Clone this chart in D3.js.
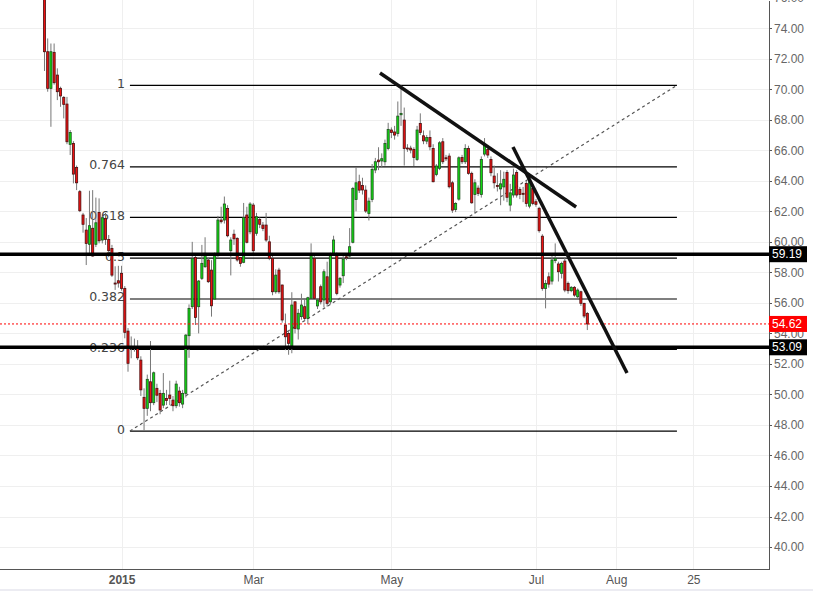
<!DOCTYPE html>
<meta charset="utf-8">
<html lang="en">
<style>

    body {
        margin: 0;
        background: #fff;
    }

    .grid line {
        stroke: #efefef;
        shape-rendering: crispEdges;
    }

    .axis path,
    .axis line {
        fill: none;
        stroke: #555;
        shape-rendering: crispEdges;
    }

    .axis text {
        font-family: "Liberation Sans", Arial, sans-serif;
        font-size: 12px;
        fill: #666;
    }

    .fib-label {
        font-family: "DejaVu Sans", sans-serif;
        font-size: 12.5px;
        fill: #444;
    }

    .tag text {
        font-family: "Liberation Sans", Arial, sans-serif;
        font-size: 12px;
        fill: #fff;
    }

</style>

<head>
    <meta charset="UTF-8">
    <script src="https://d3js.org/d3.v7.min.js"></script>
</head>
<body>
<svg width="813" height="591"></svg>
</body>
<script>

    // daily candles, oldest first
    var openVals = [
        77.80, 72.46, 70.06, 72.42, 70.93, 70.06, 69.47, 69.03, 66.39, 66.45,
        64.88, 63.29, 61.76, 60.77, 59.84, 60.89, 59.84, 61.93, 60.12, 61.54,
        60.16, 59.57, 57.30, 57.45, 57.94, 56.95, 54.15, 53.15, 53.13, 53.02,
        52.25, 49.81, 49.09, 50.83, 49.46, 50.40, 50.07, 49.30, 49.74, 49.96,
        49.63, 49.26, 50.22, 49.37, 50.07, 53.85, 55.75, 58.98, 55.75, 57.61,
        58.37, 58.81, 58.15, 56.25, 59.14, 61.43, 61.43, 62.19, 59.42, 60.50,
        60.23, 58.98, 58.66, 61.76, 60.66, 62.41, 60.56, 61.47, 61.10, 61.10,
        60.00, 58.92, 56.73, 58.15, 57.17, 54.55, 54.00, 53.17, 56.07, 54.29,
        55.10, 55.75, 54.98, 56.30, 58.92, 55.80, 57.06, 56.19, 57.71, 56.07,
        59.20, 59.20, 57.17, 57.78, 59.02, 59.07, 59.97, 62.78, 63.94, 63.70,
        63.39, 61.86, 62.78, 64.71, 65.36, 65.30, 65.25, 66.12, 67.33, 67.20,
        67.10, 68.33, 67.98, 66.15, 66.14, 66.06, 65.40, 67.76, 66.95, 66.60,
        66.84, 66.12, 64.42, 64.82, 66.56, 65.51, 65.62, 63.87, 62.12, 62.80,
        65.53, 65.25, 66.12, 64.49, 63.10, 63.52, 63.10, 65.75, 66.06, 65.40,
        64.31, 63.70, 63.47, 63.60, 64.55, 62.41, 63.07, 64.55, 63.44, 63.18,
        63.83, 62.34, 63.50, 62.63, 62.20, 60.37, 56.95, 57.71, 57.43, 58.77,
        58.55, 57.94, 58.74, 57.28, 56.80, 57.02, 56.40, 56.73, 55.97, 55.31
    ];
    var highVals = [
        77.90, 73.33, 73.00, 73.00, 71.37, 70.17, 69.55, 69.50, 67.33, 66.60,
        65.00, 63.40, 61.90, 61.56, 63.35, 63.39, 62.90, 62.85, 61.70, 61.90,
        60.45, 59.80, 58.40, 58.43, 58.43, 57.10, 54.35, 53.80, 53.66, 53.56,
        52.50, 50.40, 51.30, 53.50, 51.50, 50.70, 50.30, 51.40, 50.30, 50.90,
        49.90, 50.90, 50.50, 50.30, 53.95, 55.90, 60.00, 59.10, 57.50, 59.80,
        60.30, 58.95, 58.80, 59.30, 61.70, 62.30, 62.97, 62.40, 60.30, 60.80,
        60.30, 59.00, 62.55, 62.30, 62.60, 62.55, 61.90, 61.60, 61.30, 61.90,
        60.40, 59.20, 58.20, 58.30, 57.20, 55.30, 54.20, 56.70, 56.10, 55.60,
        56.60, 56.30, 56.40, 59.90, 59.10, 56.30, 57.20, 58.20, 58.70, 59.30,
        60.40, 59.30, 57.70, 59.10, 59.10, 60.90, 63.60, 64.90, 64.40, 64.20,
        63.70, 62.90, 65.10, 65.50, 66.20, 65.80, 66.70, 67.80, 67.50, 67.60,
        69.20, 70.26, 68.80, 66.40, 66.30, 66.20, 67.60, 68.42, 67.30, 67.00,
        67.30, 66.40, 65.10, 66.60, 66.80, 65.70, 65.80, 64.00, 62.60, 65.60,
        65.70, 66.40, 66.30, 64.60, 64.10, 63.70, 65.60, 66.80, 66.30, 65.60,
        65.00, 64.50, 64.70, 64.60, 64.70, 63.80, 64.80, 64.70, 63.60, 63.60,
        64.00, 64.50, 63.80, 62.80, 62.30, 60.50, 57.50, 58.00, 59.10, 59.90,
        58.70, 58.70, 59.00, 57.40, 57.10, 57.10, 56.95, 56.80, 56.00, 55.40
    ];
    var lowVals = [
        71.20, 69.84, 67.54, 70.30, 69.29, 68.85, 68.09, 66.40, 65.69, 63.83,
        63.39, 61.95, 60.60, 58.48, 59.13, 59.03, 59.66, 59.90, 59.90, 59.80,
        59.00, 57.70, 56.85, 57.00, 56.80, 53.68, 51.49, 52.37, 52.80, 52.25,
        49.90, 47.62, 48.60, 48.90, 49.30, 49.50, 48.70, 49.10, 49.30, 49.30,
        48.90, 49.10, 49.20, 49.10, 49.80, 52.40, 55.60, 54.55, 54.00, 57.50,
        58.30, 57.30, 55.10, 56.20, 59.00, 61.20, 61.20, 60.30, 57.80, 59.80,
        58.70, 58.37, 58.60, 59.90, 60.50, 59.25, 60.40, 60.90, 60.70, 60.00,
        58.80, 56.50, 56.60, 56.60, 54.70, 52.90, 52.60, 52.70, 54.00, 53.60,
        54.90, 54.80, 54.60, 56.30, 56.20, 55.60, 55.90, 55.70, 55.75, 55.90,
        59.10, 56.50, 57.00, 57.30, 58.80, 58.95, 59.90, 62.00, 63.20, 63.10,
        61.90, 61.40, 62.60, 64.50, 64.70, 64.90, 65.00, 66.00, 66.80, 66.70,
        66.90, 67.60, 65.00, 65.90, 65.80, 64.97, 65.30, 67.00, 66.40, 66.40,
        66.00, 63.90, 64.30, 64.70, 65.10, 65.30, 63.50, 61.90, 61.95, 62.70,
        65.10, 65.10, 64.40, 62.50, 61.84, 63.00, 62.90, 65.60, 65.50, 64.30,
        63.50, 63.30, 62.40, 62.70, 62.60, 62.00, 62.90, 62.90, 62.80, 62.60,
        62.30, 62.20, 62.40, 62.30, 60.60, 56.80, 55.64, 57.00, 57.20, 58.60,
        57.40, 57.60, 56.70, 56.60, 56.70, 56.40, 56.30, 55.80, 55.00, 54.22
    ];
    var closeVals = [
        72.46, 70.06, 72.46, 70.43, 69.84, 69.56, 69.01, 66.56, 67.17, 64.44,
        63.87, 62.04, 61.15, 59.90, 61.06, 59.07, 61.25, 60.07, 61.58, 60.16,
        59.42, 57.82, 57.25, 57.30, 56.95, 54.07, 52.04, 53.09, 53.02, 52.40,
        50.30, 49.09, 50.99, 49.46, 51.42, 49.95, 48.98, 50.07, 49.60, 49.74,
        49.26, 50.68, 49.46, 50.07, 53.89, 55.64, 58.92, 55.05, 57.43, 58.59,
        59.25, 57.39, 55.81, 59.14, 61.43, 61.32, 62.48, 60.40, 60.12, 60.20,
        58.81, 58.59, 61.60, 59.97, 62.48, 59.42, 61.65, 61.15, 60.88, 60.12,
        58.92, 56.73, 57.82, 56.73, 54.88, 53.78, 53.35, 55.86, 54.33, 55.32,
        55.86, 54.98, 56.34, 59.13, 56.30, 56.19, 56.07, 58.04, 55.97, 59.20,
        60.12, 56.62, 57.61, 58.87, 58.96, 59.68, 63.50, 63.87, 63.39, 63.40,
        62.02, 62.67, 64.75, 65.25, 65.25, 65.45, 66.45, 67.37, 67.17, 67.00,
        68.24, 68.42, 66.12, 66.10, 66.02, 65.53, 67.33, 67.17, 66.62, 66.84,
        66.23, 63.94, 64.97, 66.49, 65.25, 65.47, 63.61, 62.08, 62.52, 65.51,
        65.25, 66.12, 64.49, 62.56, 63.87, 63.17, 65.40, 66.32, 65.69, 64.53,
        63.87, 63.67, 63.80, 64.10, 62.92, 63.21, 64.38, 63.07, 63.11, 63.12,
        62.52, 64.05, 62.52, 62.46, 60.73, 56.95, 57.28, 57.23, 58.81, 58.92,
        58.04, 58.59, 56.84, 56.80, 57.02, 56.51, 56.84, 55.97, 55.14, 54.62
    ];

    var yTicks = [40, 42, 44, 46, 48, 50, 52, 54, 56, 58, 60, 62, 64, 66, 68, 70, 72, 74, 76];
    var xTickIdx = [24, 65, 108, 153, 178, 202];
    var xTickLabels = ["2015", "Mar", "May", "Jul", "Aug", "25"];

    // fibonacci retracement, drawn from the January low to the May high
    var fibLevels = [1, 0.764, 0.618, 0.5, 0.382, 0.236, 0];
    var fibLabels = ["1", "0.764", "0.618", "0.5", "0.382", "0.236", "0"];
    var fibLow = 47.60, fibHigh = 70.26;
    var fibFrom = 26.6, fibTo = 196.9;

    var keyLevels = [59.19, 53.09];
    var lastPrice = 54.62;

    // hand drawn trend lines: [index, price] -> [index, price]
    var trendLines = [
        [[104.45, 71.07], [165.5, 62.28]],
        [[145.85, 66.22], [181.35, 51.40]]
    ];

    var margin = {top: 0, right: 44, bottom: 22, left: 0},
        width = 813 - margin.left - margin.right,
        height = 591 - margin.top - margin.bottom;

    var candles = openVals.map(function (o, i) {
        return {i: i, open: o, high: highVals[i], low: lowVals[i], close: closeVals[i]};
    });

    var x = d3.scaleLinear().domain([-13.85, 225.56]).range([0, width]);
    var y = d3.scaleLinear().domain([38.56, 75.85]).range([height, 0]);

    var svg = d3.select("svg");

    svg.append("rect")
        .attr("x", 0).attr("y", 589).attr("width", 813).attr("height", 2)
        .style("fill", "#ececf2");

    var g = svg.append("g")
        .attr("transform", "translate(" + margin.left + "," + margin.top + ")");

    g.append("clipPath").attr("id", "plot-clip")
        .append("rect").attr("width", width).attr("height", height);

    // grid
    var grid = g.append("g").attr("class", "grid");
    grid.selectAll(".hg").data(yTicks).enter().append("line")
        .attr("x1", 0).attr("x2", width)
        .attr("y1", function (d) { return Math.round(y(d)) + 0.5; })
        .attr("y2", function (d) { return Math.round(y(d)) + 0.5; });
    grid.selectAll(".vg").data(xTickIdx).enter().append("line")
        .attr("y1", 0).attr("y2", height)
        .attr("x1", function (d) { return Math.round(x(d)) + 0.5; })
        .attr("x2", function (d) { return Math.round(x(d)) + 0.5; });

    // fib levels
    var fib = g.append("g");
    fibLevels.forEach(function (lv, k) {
        var p = fibLow + lv * (fibHigh - fibLow);
        fib.append("line")
            .attr("x1", x(fibFrom)).attr("x2", x(fibTo))
            .attr("y1", y(p)).attr("y2", y(p))
            .style("stroke", "#000").style("stroke-width", 1.2);
        fib.append("text")
            .attr("class", "fib-label")
            .attr("x", x(fibFrom) - 5)
            .attr("y", y(p) + 2.5)
            .style("text-anchor", "end")
            .text(fibLabels[k]);
    });

    g.append("line")
        .attr("x1", x(fibFrom)).attr("y1", y(fibLow))
        .attr("x2", x(fibTo)).attr("y2", y(fibHigh))
        .style("stroke", "#555")
        .style("stroke-width", 1.2)
        .style("stroke-dasharray", "3,3");

    // candles
    var bodyW = 2.1;
    var plot = g.append("g").attr("clip-path", "url(#plot-clip)");

    plot.selectAll(".wick").data(candles).enter().append("line")
        .attr("class", "wick")
        .attr("x1", function (d) { return x(d.i); })
        .attr("x2", function (d) { return x(d.i); })
        .attr("y1", function (d) { return y(d.high); })
        .attr("y2", function (d) { return y(d.low); })
        .style("stroke", "#777")
        .style("stroke-width", 1);

    plot.selectAll(".body").data(candles).enter().append("rect")
        .attr("class", "body")
        .attr("x", function (d) { return x(d.i) - bodyW / 2; })
        .attr("width", bodyW)
        .attr("y", function (d) { return y(Math.max(d.open, d.close)); })
        .attr("height", function (d) { return Math.max(1, Math.abs(y(d.open) - y(d.close))); })
        .style("fill", function (d) { return d.close >= d.open ? "#11dd11" : "#ee1111"; })
        .style("stroke", function (d) { return d.close >= d.open ? "#1f4f1f" : "#4a1010"; })
        .style("stroke-width", 0.8);

    // key price lines
    g.selectAll(".key").data(keyLevels).enter().append("line")
        .attr("x1", 0).attr("x2", width)
        .attr("y1", function (d) { return y(d); })
        .attr("y2", function (d) { return y(d); })
        .style("stroke", "#000")
        .style("stroke-width", 3.5);

    g.append("line")
        .attr("x1", 0).attr("x2", width)
        .attr("y1", y(lastPrice)).attr("y2", y(lastPrice))
        .style("stroke", "#ff0000")
        .style("stroke-width", 1)
        .style("stroke-dasharray", "2,2");

    // trend lines
    var tline = d3.line()
        .x(function (d) { return x(d[0]); })
        .y(function (d) { return y(d[1]); });
    g.selectAll(".trend").data(trendLines).enter().append("path")
        .attr("d", tline)
        .style("fill", "none")
        .style("stroke", "#111")
        .style("stroke-width", 3.5);

    // axes
    var yAxis = d3.axisRight(y)
        .tickValues(yTicks)
        .tickSize(3)
        .tickSizeOuter(0)
        .tickPadding(2)
        .tickFormat(d3.format(".2f"));

    g.append("g")
        .attr("class", "y axis")
        .attr("transform", "translate(" + width + ",0)")
        .call(yAxis);

    var xAxis = d3.axisBottom(x)
        .tickValues(xTickIdx)
        .tickSize(0)
        .tickSizeOuter(0)
        .tickPadding(6)
        .tickFormat(function (d, i) { return xTickLabels[i]; });

    var xg = g.append("g")
        .attr("class", "x axis")
        .attr("transform", "translate(0," + height + ")")
        .call(xAxis);
    xg.select(".domain").attr("d", "M0,0.5H" + width);
    xg.selectAll("text")
        .style("fill", "#555")
        .style("font-weight", function (d, i) { return i === 0 ? "bold" : "normal"; });

    // price tags on the axis
    var tags = [
        {v: keyLevels[0], c: "#000"},
        {v: lastPrice, c: "#ff0000"},
        {v: keyLevels[1], c: "#000"}
    ];
    var tag = g.selectAll(".tag").data(tags).enter().append("g")
        .attr("class", "tag")
        .attr("transform", function (d) { return "translate(" + width + "," + y(d.v) + ")"; });
    tag.append("rect")
        .attr("x", 0).attr("y", -8).attr("width", 38).attr("height", 16)
        .style("fill", function (d) { return d.c; });
    tag.append("text")
        .attr("x", 3).attr("dy", "0.35em")
        .text(function (d) { return d.v.toFixed(2); });

</script>

</html>
